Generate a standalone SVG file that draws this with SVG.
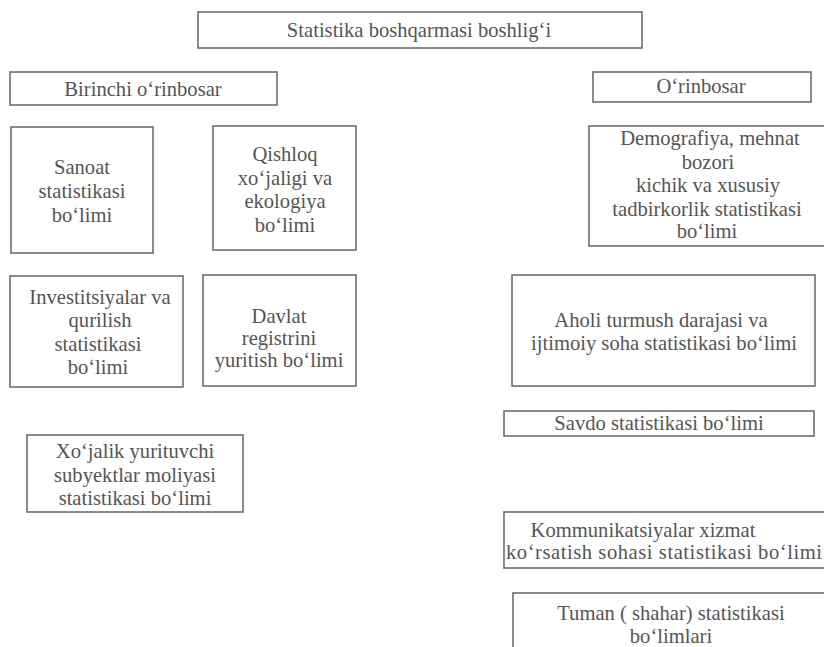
<svg xmlns="http://www.w3.org/2000/svg" width="824" height="647" viewBox="0 0 824 647">
<style>
.b{fill:#fff;stroke:#6e6e6e;stroke-width:1.6}
.t{font-family:"Liberation Serif","Times New Roman",serif;font-size:20.6px;fill:#555;text-anchor:middle}
</style>
<rect width="824" height="647" fill="#fff"/>
<g id="connectors"></g>
<g id="n_head"><rect class="b" x="198" y="12" width="444" height="36"/><text class="t" x="419" y="37">Statistika boshqarmasi boshligʻi</text></g>
<g id="n_first"><rect class="b" x="10" y="72" width="267" height="33"/><text class="t" x="143" y="96">Birinchi oʻrinbosar</text></g>
<g id="n_deputy"><rect class="b" x="593" y="72" width="218" height="30"/><text class="t" x="701" y="93">Oʻrinbosar</text></g>
<g id="n_sanoat"><rect class="b" x="11" y="127" width="142" height="126"/><text class="t" x="82" y="174">Sanoat</text><text class="t" x="82" y="198">statistikasi</text><text class="t" x="82" y="222">boʻlimi</text></g>
<g id="n_qishloq"><rect class="b" x="213" y="126" width="143" height="124"/><text class="t" x="285" y="161">Qishloq</text><text class="t" x="285" y="185">xoʻjaligi va</text><text class="t" x="285" y="208">ekologiya</text><text class="t" x="285" y="232">boʻlimi</text></g>
<g id="n_demo"><rect class="b" x="589" y="126" width="240" height="120"/><text class="t" x="710" y="145">Demografiya, mehnat</text><text class="t" x="708" y="169">bozori</text><text class="t" x="708" y="192">kichik va xususiy</text><text class="t" x="707" y="216">tadbirkorlik statistikasi</text><text class="t" x="707" y="238">boʻlimi</text></g>
<g id="n_invest"><rect class="b" x="10" y="276" width="173" height="111"/><text class="t" x="100" y="304">Investitsiyalar va</text><text class="t" x="100" y="327">qurilish</text><text class="t" x="98" y="351">statistikasi</text><text class="t" x="98" y="374">boʻlimi</text></g>
<g id="n_davlat"><rect class="b" x="203" y="275" width="153" height="111"/><text class="t" x="279" y="323">Davlat</text><text class="t" x="279" y="345">registrini</text><text class="t" x="279" y="367">yuritish boʻlimi</text></g>
<g id="n_aholi"><rect class="b" x="512" y="275" width="303" height="111"/><text class="t" x="661" y="327">Aholi turmush darajasi va</text><text class="t" x="664" y="350">ijtimoiy soha statistikasi boʻlimi</text></g>
<g id="n_savdo"><rect class="b" x="504" y="411" width="310" height="25"/><text class="t" x="659" y="430">Savdo statistikasi boʻlimi</text></g>
<g id="n_xojalik"><rect class="b" x="27" y="435" width="216" height="77"/><text class="t" x="135" y="458">Xoʻjalik yurituvchi</text><text class="t" x="135" y="482">subyektlar moliyasi</text><text class="t" x="135" y="505">statistikasi boʻlimi</text></g>
<g id="n_komm"><rect class="b" x="504" y="512" width="324" height="56"/><text class="t" x="643" y="537">Kommunikatsiyalar xizmat</text><text class="t" x="664" y="559" textLength="316" lengthAdjust="spacing">koʻrsatish sohasi statistikasi boʻlimi</text></g>
<g id="n_tuman"><rect class="b" x="513" y="593" width="320" height="70"/><text class="t" x="671" y="620">Tuman ( shahar) statistikasi</text><text class="t" x="671" y="643">boʻlimlari</text></g>
</svg>
